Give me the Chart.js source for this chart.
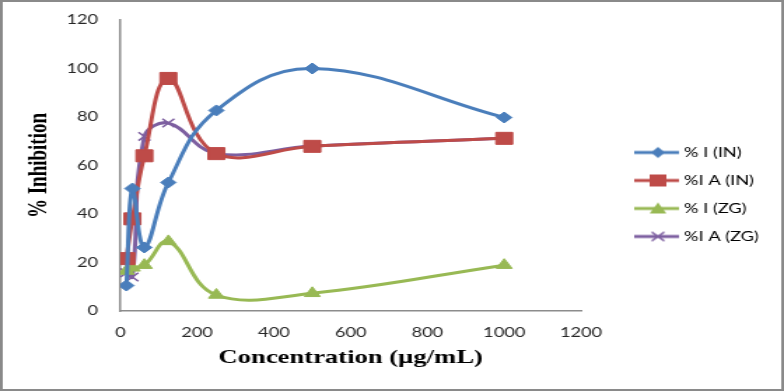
<!DOCTYPE html>
<html>
<head>
<meta charset="utf-8">
<script src="https://cdn.jsdelivr.net/npm/chart.js@4"></script>
<style>
  body { margin: 0; background: #fff; }
  #wrap { width: 784px; height: 391px; }
</style>
</head>
<body>
<!-- the original picture is stretched sideways, so the canvas is drawn narrow and widened -->
<div id="wrap"><canvas id="myChart" width="560" height="391" style="width:784px;height:391px"></canvas></div>
<script>
var conc = [15.625, 31.25, 62.5, 125, 250, 500, 1000];
var iIN = [10.5, 50.5, 26.2, 53, 82.7, 100, 79.8];
var iaIN = [21.6, 38, 64, 95.9, 64.9, 67.9, 71.2];
var iZG = [16.5, 17.8, 18.9, 28.7, 6.6, 7.3, 18.9];
var iaZG = [15.8, 14, 72, 77.5, 65, 68, 71.2];
var yTicks = [0, 20, 40, 60, 80, 100, 120];

function pts(ys) {
  return conc.map(function (x, i) { return { x: x, y: ys[i] }; });
}

// legend icon: a short piece of line with the marker on it
function legendIcon(color, style) {
  var c = document.createElement('canvas');
  c.width = 60; c.height = 16;
  var g = c.getContext('2d');
  g.strokeStyle = color; g.fillStyle = color; g.lineWidth = 3;
  g.beginPath(); g.moveTo(27, 8); g.lineTo(59, 8); g.stroke();
  var m = 44;
  g.beginPath();
  if (style === 'rectRot') { g.moveTo(m, 2.5); g.lineTo(m + 5, 8); g.lineTo(m, 13.5); g.lineTo(m - 5, 8); g.closePath(); g.fill(); }
  else if (style === 'rect') { g.rect(m - 6, 2, 12, 12); g.fill(); }
  else if (style === 'triangle') { g.moveTo(m, 2); g.lineTo(m + 6, 13); g.lineTo(m - 6, 13); g.closePath(); g.fill(); }
  else {
    g.lineWidth = 1.5;
    g.moveTo(m - 4.5, 3.5); g.lineTo(m + 4.5, 12.5); g.moveTo(m + 4.5, 3.5); g.lineTo(m - 4.5, 12.5); g.stroke();
  }
  return c;
}

var frame = {
  id: 'frame',
  afterDraw: function (chart) {
    var ctx = chart.ctx;
    ctx.save();
    ctx.strokeStyle = '#8a8a8a';
    ctx.lineWidth = 2;
    ctx.strokeRect(1, 1, chart.width - 2, chart.height - 2);
    ctx.restore();
  }
};

var series = [
  { label: '% I (IN)', data: iIN, color: '#4a7ebb', style: 'rectRot', r: 5.5 },
  { label: '%I A (IN)', data: iaIN, color: '#be4b48', style: 'rect', r: 8.5 },
  { label: '% I (ZG)', data: iZG, color: '#98b954', style: 'triangle', r: 6.5 },
  { label: '%I A (ZG)', data: iaZG, color: '#7d5fa0', style: 'crossRot', r: 6 }
];

window.onload = function () {
  var ctx = document.getElementById('myChart');
  var myChart = new Chart(ctx, {
    type: 'scatter',
    data: {
      datasets: series.map(function (s) {
        return {
          label: s.label,
          data: pts(s.data),
          showLine: true,
          tension: 0.4,
          borderColor: s.color,
          backgroundColor: s.color,
          borderWidth: 3,
          pointStyle: s.style,
          pointRadius: s.r,
          pointHoverRadius: s.r,
          pointBorderWidth: s.style === 'crossRot' ? 1.5 : 1,
          pointBorderColor: s.color,
          pointBackgroundColor: s.color
        };
      })
    },
    options: {
      responsive: false,
      animation: false,
      layout: { padding: { left: 10, top: 20, right: 10, bottom: 22 } },
      plugins: {
        tooltip: { enabled: false },
        legend: {
          position: 'right',
          align: 'center',
          labels: {
            usePointStyle: true,
            pointStyleWidth: 52,
            padding: 15,
            color: '#000',
            font: { family: 'Lato', size: 13 },
            generateLabels: function (chart) {
              return series.map(function (s, i) {
                return {
                  text: s.label,
                  pointStyle: legendIcon(s.color, s.style),
                  fillStyle: s.color,
                  strokeStyle: s.color,
                  lineWidth: 0,
                  datasetIndex: i
                };
              });
            }
          }
        }
      },
      scales: {
        x: {
          type: 'linear',
          min: 0,
          max: 1200,
          ticks: {
            stepSize: 200, color: '#262626', font: { family: 'Lato', size: 13 }, maxRotation: 0, padding: 6,
            callback: function (v) { return String(v); }
          },
          grid: { display: false },
          border: { display: true, color: '#8c8c8c', width: 1.5 },
          title: {
            display: true,
            text: 'Concentration (µg/mL)',
            color: '#000',
            font: { family: 'Liberation Serif', size: 19, weight: 'bold' },
            padding: { top: 4, bottom: 0 }
          },
          afterFit: function (scale) { scale.height = 58; }
        },
        y: {
          min: 0,
          max: 120,
          afterBuildTicks: function (scale) { scale.ticks = yTicks.map(function (v) { return { value: v }; }); },
          ticks: {
            color: '#262626', font: { family: 'Lato', size: 13 }, padding: 8,
            callback: function (v) { return String(v); }
          },
          grid: { display: false },
          border: { display: true, color: '#8c8c8c', width: 1.5 },
          title: {
            display: true,
            text: '% Inhibition',
            color: '#000',
            font: { family: 'Liberation Serif', size: 19, weight: 'bold' },
            padding: { top: 7, bottom: 4 }
          },
          afterFit: function (scale) { scale.width = 76; }
        }
      }
    },
    plugins: [frame]
  });
};
</script>
</body>
</html>
